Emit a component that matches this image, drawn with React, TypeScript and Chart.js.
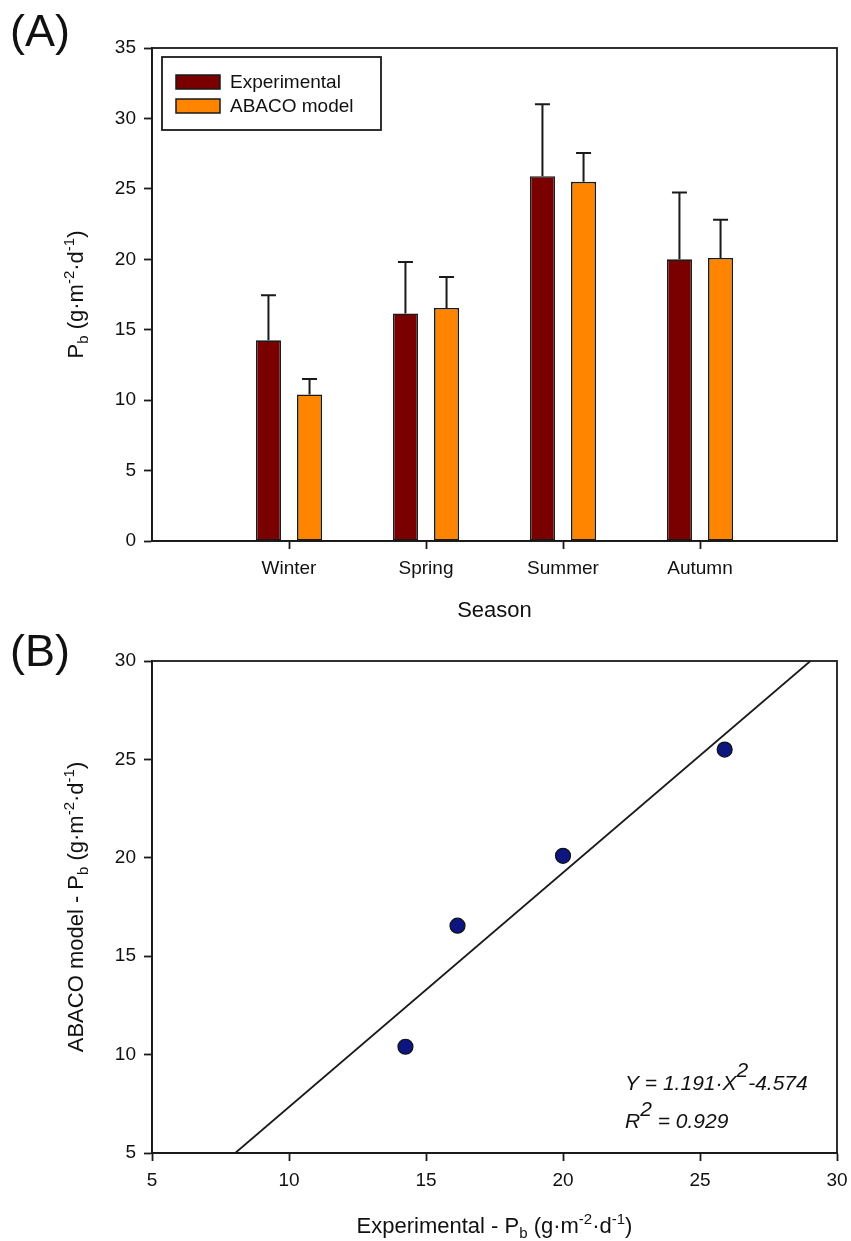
import React, { useEffect, useRef } from 'react';
import { Chart, registerables } from 'chart.js';
Chart.register(...registerables);

const FONT = '"Liberation Sans", Arial, sans-serif';

// ---- Data (A) ----
const seasons = ['', 'Winter', 'Spring', 'Summer', 'Autumn', ''];
const experimental = [null, 14.25, 16.15, 25.9, 20.0, null];
const abacoModel = [null, 10.4, 16.55, 25.5, 20.1, null];
const experimentalErr = [null, 3.2, 3.65, 5.1, 4.75, null];
const abacoErr = [null, 1.1, 2.2, 2.05, 2.7, null];
const seriesNames = ['Experimental', 'ABACO model'];
const seriesColors = ['#7a0000', '#ff8500'];

// ---- Data (B) ----
const scatterX = [14.25, 16.15, 25.9, 20.0];
const scatterY = [10.4, 16.55, 25.5, 20.1];
const fitSlope = 1.191;
const fitIntercept = -4.574;
const fitR2 = 0.929;
const axisMinB = 5;
const axisMaxB = 30;

const LINE = '#1a1a1a';
const LW = 1.8;

type Seg = { t: string; size: number; dy?: number; italic?: boolean };

function drawRich(ctx: CanvasRenderingContext2D, segs: Seg[], x: number, y: number, align: 'left' | 'center', rotate: boolean) {
  ctx.save();
  ctx.translate(x, y);
  if (rotate) ctx.rotate(-Math.PI / 2);
  ctx.textBaseline = 'alphabetic';
  ctx.textAlign = 'left';
  ctx.fillStyle = '#111';
  const fontOf = (s: Seg) => `${s.italic ? 'italic ' : ''}${s.size}px ${FONT}`;
  let total = 0;
  for (const s of segs) {
    ctx.font = fontOf(s);
    total += ctx.measureText(s.t).width;
  }
  let cx = align === 'center' ? -total / 2 : 0;
  for (const s of segs) {
    ctx.font = fontOf(s);
    ctx.fillText(s.t, cx, s.dy || 0);
    cx += ctx.measureText(s.t).width;
  }
  ctx.restore();
}

const unitSegs = (prefix: string, size: number): Seg[] => [
  { t: prefix + 'P', size },
  { t: 'b', size: Math.round(size * 0.68), dy: 5 },
  { t: ' (g·m', size },
  { t: '-2', size: Math.round(size * 0.68), dy: -9 },
  { t: '·d', size },
  { t: '-1', size: Math.round(size * 0.68), dy: -9 },
  { t: ')', size },
];

const frameStroke = (chart: any) => {
  const { ctx, chartArea: a } = chart;
  ctx.save();
  ctx.strokeStyle = LINE;
  ctx.lineWidth = LW;
  ctx.strokeRect(a.left, a.top, a.right - a.left, a.bottom - a.top);
  ctx.restore();
};

const tickFont = { family: FONT, size: 19 };

function ChartA() {
  const ref = useRef<HTMLCanvasElement>(null);
  useEffect(() => {
    const errs = [experimentalErr, abacoErr];
    const means = [experimental, abacoModel];
    const plugin = {
      id: 'decorA',
      afterDatasetsDraw(chart: any) {
        const ctx = chart.ctx;
        const ys = chart.scales.y;
        ctx.save();
        ctx.strokeStyle = LINE;
        ctx.lineWidth = 2;
        for (let d = 0; d < 2; d++) {
          const meta = chart.getDatasetMeta(d);
          meta.data.forEach((el: any, i: number) => {
            const v = means[d][i];
            const e = errs[d][i];
            if (v == null || e == null) return;
            const top = ys.getPixelForValue(v + e);
            ctx.beginPath();
            ctx.moveTo(el.x, el.y);
            ctx.lineTo(el.x, top);
            ctx.moveTo(el.x - 7.5, top);
            ctx.lineTo(el.x + 7.5, top);
            ctx.stroke();
          });
        }
        ctx.restore();
      },
      afterDraw(chart: any) {
        const ctx = chart.ctx;
        const a = chart.chartArea;
        frameStroke(chart);
        // legend
        ctx.save();
        const lx = a.left + 10, ly = a.top + 9, lw = 219, lh = 73;
        ctx.strokeStyle = LINE;
        ctx.lineWidth = LW;
        ctx.strokeRect(lx, ly, lw, lh);
        seriesNames.forEach((name, i) => {
          const sy = ly + 18 + i * 24;
          ctx.fillStyle = seriesColors[i];
          ctx.fillRect(lx + 14, sy, 44, 14);
          ctx.strokeStyle = LINE;
          ctx.lineWidth = 1.5;
          ctx.strokeRect(lx + 14, sy, 44, 14);
          ctx.fillStyle = '#111';
          ctx.font = `19px ${FONT}`;
          ctx.textBaseline = 'middle';
          ctx.textAlign = 'left';
          ctx.fillText(name, lx + 68, sy + 8);
        });
        ctx.restore();
        // panel label
        drawRich(ctx, [{ t: '(A)', size: 45 }], 10, 46, 'left', false);
        // axis titles
        drawRich(ctx, unitSegs('', 22), 83, (a.top + a.bottom) / 2, 'center', true);
        drawRich(ctx, [{ t: 'Season', size: 22 }], (a.left + a.right) / 2, 617, 'center', false);
      },
    };
    const chart = new Chart(ref.current!, {
      type: 'bar',
      data: {
        labels: seasons,
        datasets: [
          { label: seriesNames[0], data: experimental as any, backgroundColor: seriesColors[0], borderColor: LINE, borderWidth: 1.6, borderSkipped: false },
          { label: seriesNames[1], data: abacoModel as any, backgroundColor: seriesColors[1], borderColor: LINE, borderWidth: 1.6, borderSkipped: false },
        ],
      },
      options: {
        responsive: false,
        animation: false,
        devicePixelRatio: 1,
        categoryPercentage: 0.6,
        barPercentage: 0.61,
        layout: { padding: { top: 48, right: 14, left: 0, bottom: 0 } },
        plugins: { legend: { display: false }, tooltip: { enabled: false } },
        scales: {
          x: {
            type: 'category',
            offset: false,
            grid: {
              display: true,
              offset: false,
              drawOnChartArea: false,
              tickLength: 8,
              tickWidth: LW,
              tickColor: (c: any) => (c.index === 0 || c.index === seasons.length - 1 ? 'rgba(0,0,0,0)' : LINE),
            },
            border: { color: LINE, width: LW },
            ticks: { color: '#111', font: tickFont, padding: 8, autoSkip: false, maxRotation: 0 },
            afterFit: (s: any) => { s.height = 89; s.paddingLeft = 0; s.paddingRight = 0; },
          },
          y: {
            min: 0,
            max: 35,
            grid: { display: true, drawOnChartArea: false, tickLength: 8, tickWidth: LW, tickColor: LINE },
            border: { color: LINE, width: LW },
            ticks: { stepSize: 5, color: '#111', font: tickFont, padding: 8 },
            afterFit: (s: any) => { s.width = 152; s.paddingTop = 0; s.paddingBottom = 0; },
          },
        },
      } as any,
      plugins: [plugin],
    });
    return () => chart.destroy();
  }, []);
  return <canvas ref={ref} width={851} height={630} style={{ position: 'absolute', left: 0, top: 0, display: 'block' }} />;
}

function ChartB() {
  const ref = useRef<HTMLCanvasElement>(null);
  useEffect(() => {
    const plugin = {
      id: 'decorB',
      afterDraw(chart: any) {
        const ctx = chart.ctx;
        const a = chart.chartArea;
        frameStroke(chart);
        drawRich(ctx, [{ t: '(B)', size: 45 }], 10, 36, 'left', false);
        drawRich(ctx, unitSegs('ABACO model - ', 22), 83, (a.top + a.bottom) / 2, 'center', true);
        drawRich(ctx, unitSegs('Experimental - ', 22), (a.left + a.right) / 2, 603, 'center', false);
        drawRich(ctx, [
          { t: `Y = ${fitSlope.toFixed(3)}·X`, size: 21, italic: true },
          { t: '2', size: 21, dy: -13, italic: true },
          { t: `${fitIntercept.toFixed(3)}`, size: 21, italic: true },
        ], 625, 460, 'left', false);
        drawRich(ctx, [
          { t: 'R', size: 21, italic: true },
          { t: '2', size: 21, dy: -12, italic: true },
          { t: ` = ${fitR2.toFixed(3)}`, size: 21, italic: true },
        ], 625, 498, 'left', false);
      },
    };
    const fitLine = [axisMinB, axisMaxB].map((yv) => ({ x: (yv - fitIntercept) / fitSlope, y: yv }));
    const chart = new Chart(ref.current!, {
      type: 'scatter',
      data: {
        datasets: [
          {
            label: 'Seasons',
            data: scatterX.map((x, i) => ({ x, y: scatterY[i] })),
            backgroundColor: '#0d1580',
            borderColor: '#111',
            borderWidth: 1.2,
            pointRadius: 7.5,
          },
          {
            type: 'line',
            label: 'Fit',
            data: fitLine,
            borderColor: LINE,
            borderWidth: 1.8,
            pointRadius: 0,
            showLine: true,
            fill: false,
          } as any,
        ],
      },
      options: {
        responsive: false,
        animation: false,
        devicePixelRatio: 1,
        layout: { padding: { top: 31, right: 14, left: 0, bottom: 0 } },
        plugins: { legend: { display: false }, tooltip: { enabled: false } },
        scales: {
          x: {
            type: 'linear',
            min: axisMinB,
            max: axisMaxB,
            grid: { display: true, drawOnChartArea: false, tickLength: 8, tickWidth: LW, tickColor: LINE },
            border: { color: LINE, width: LW },
            ticks: { stepSize: 5, color: '#111', font: tickFont, padding: 8, maxRotation: 0 },
            afterFit: (s: any) => { s.height = 88; s.paddingLeft = 0; s.paddingRight = 0; },
          },
          y: {
            type: 'linear',
            min: axisMinB,
            max: axisMaxB,
            grid: { display: true, drawOnChartArea: false, tickLength: 8, tickWidth: LW, tickColor: LINE },
            border: { color: LINE, width: LW },
            ticks: { stepSize: 5, color: '#111', font: tickFont, padding: 8 },
            afterFit: (s: any) => { s.width = 152; s.paddingTop = 0; s.paddingBottom = 0; },
          },
        },
      } as any,
      plugins: [plugin],
    });
    return () => chart.destroy();
  }, []);
  return <canvas ref={ref} width={851} height={611} style={{ position: 'absolute', left: 0, top: 630, display: 'block' }} />;
}

export default function App() {
  return (
    <div style={{ position: 'absolute', left: 0, top: 0, width: 851, height: 1241, background: '#fff' }}>
      <ChartA />
      <ChartB />
    </div>
  );
}
